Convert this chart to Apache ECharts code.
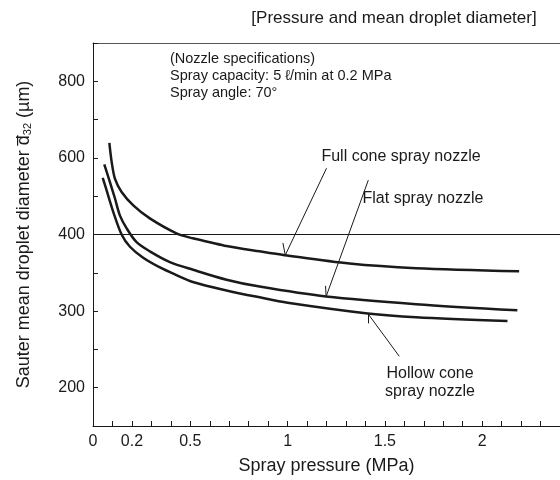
<!DOCTYPE html>
<html>
<head>
<meta charset="utf-8">
<script src="https://cdn.jsdelivr.net/npm/echarts@6/dist/echarts.min.js"></script>
<style>
  html, body { margin: 0; padding: 0; background: #fff; }
  #main { width: 560px; height: 480px; }
</style>
</head>
<body>
<div id="main"></div>
<script>
// y axis of the original is not linear: 200,300,400 then 600,800 at the same spacing
const yTickLabels = [200, 300, 400, 600, 800];

// pressure (MPa) / droplet diameter (µm)
const fullConeP = [0.084, 0.096, 0.113, 0.147, 0.207, 0.292, 0.429, 0.513, 0.600, 0.686, 0.856, 0.985, 1.318, 1.660, 2.190];
const fullConeD = [639, 589, 545, 511, 476, 442, 403, 395, 390, 385, 378, 373, 362, 356, 352];

const flatP = [0.058, 0.087, 0.113, 0.138, 0.173, 0.224, 0.292, 0.395, 0.514, 0.686, 0.856, 1.198, 1.660, 2.181];
const flatD = [583, 537, 494, 450, 416, 390, 378, 364, 354, 341, 332, 319, 309, 301];

const hollowP = [0.050, 0.070, 0.104, 0.147, 0.190, 0.256, 0.344, 0.429, 0.513, 0.686, 0.856, 1.0, 1.412, 1.660, 2.130];
const hollowD = [548, 515, 459, 400, 384, 370, 357, 347, 338, 327, 318, 311, 297, 292, 287];

const xLabelsShown = [0, 0.2, 0.5, 1, 1.5, 2];

// leader lines [pressure, µm] from label to curve
const leaders = [
  [[1.20, 573], [0.988, 373]],
  [[1.415, 542], [1.198, 319]],
  [[1.574, 241], [1.412, 297]]
];
// little barbs at the tips
const barbs = [
  [[0.976, 389], [0.988, 373]],
  [[1.195, 333], [1.198, 319]],
  [[1.412, 284], [1.412, 297]]
];

// µm -> position on the drawn axis
function toPos(v) {
  return v <= 400 ? (v - 200) / 100 : 2 + (v - 400) / 200;
}
function pairs(ps, ds) {
  return ps.map((p, i) => [p, toPos(ds[i])]);
}
function segs(list) {
  return list.map(s => [{ coord: [s[0][0], toPos(s[0][1])] }, { coord: [s[1][0], toPos(s[1][1])] }]);
}

const font = 'Arial, "Liberation Sans", sans-serif';
const ink = '#1a1a1a';

const chart = echarts.init(document.getElementById('main'));

const curve = (name, data) => ({
  name: name,
  type: 'line',
  data: data,
  smooth: 0.3,
  symbol: 'none',
  lineStyle: { color: ink, width: 2.5 },
  silent: true
});

chart.setOption({
  animation: false,
  grid: { left: 93, top: 43, right: 0, bottom: 52 },
  xAxis: [{
    type: 'value',
    min: 0, max: 2.4, interval: 0.1,
    name: 'Spray pressure (MPa)',
    nameLocation: 'middle',
    nameGap: 31,
    nameTextStyle: { fontFamily: font, fontSize: 18, color: ink },
    axisLine: { onZero: false, lineStyle: { color: ink, width: 1 } },
    axisTick: { inside: true, length: 5, lineStyle: { color: ink } },
    axisLabel: {
      fontFamily: font, fontSize: 16, color: ink, margin: 8,
      showMaxLabel: false,
      formatter: v => {
        const r = Math.round(v * 10) / 10;
        return xLabelsShown.indexOf(r) >= 0 ? String(r) : '';
      }
    },
    splitLine: { show: false }
  }, {
    type: 'value', position: 'top', min: 0, max: 2.4,
    axisLine: { show: true, onZero: false, lineStyle: { color: '#555', width: 1.2 } },
    axisTick: { show: false }, axisLabel: { show: false }, splitLine: { show: false }
  }],
  yAxis: {
    type: 'value',
    min: -0.5, max: 4.5, interval: 0.5,
    name: 'Sauter mean droplet diameter {d|d\u0305}{sub|32} (\u00b5m)',
    nameLocation: 'middle',
    nameGap: 60,
    nameTextStyle: {
      fontFamily: font, fontSize: 18, color: ink,
      rich: {
        d: { fontFamily: font, fontSize: 18, color: ink },
        sub: { fontFamily: font, fontSize: 11, color: ink, verticalAlign: 'bottom', padding: [7, 0, 0, 0] }
      }
    },
    axisLine: { show: true, onZero: false, lineStyle: { color: ink, width: 1 } },
    axisTick: { inside: true, length: 5, lineStyle: { color: ink } },
    axisLabel: {
      fontFamily: font, fontSize: 16, color: ink, margin: 8,
      formatter: v => (Number.isInteger(v) && yTickLabels[v] !== undefined) ? String(yTickLabels[v]) : ''
    },
    splitLine: { show: false }
  },
  series: [
    curve('Full cone spray nozzle', pairs(fullConeP, fullConeD)),
    curve('Flat spray nozzle', pairs(flatP, flatD)),
    curve('Hollow cone spray nozzle', pairs(hollowP, hollowD)),
    {
      type: 'line', data: [], silent: true,
      markLine: {
        silent: true, symbol: 'none', animation: false,
        label: { show: false },
        lineStyle: { color: ink, width: 1, type: 'solid' },
        data: [{ yAxis: toPos(400), lineStyle: { width: 1.2 } }].concat(segs(leaders), segs(barbs))
      }
    }
  ],
  graphic: [
    { type: 'text', x: 394, y: 10, style: { text: '[Pressure and mean droplet diameter]', font: '17px ' + font, fill: ink, align: 'center' } },
    { type: 'text', x: 170, y: 50, style: { text: '(Nozzle specifications)\nSpray capacity: 5 \u2113/min at 0.2 MPa\nSpray angle: 70\u00b0', font: '14.5px ' + font, fill: ink, lineHeight: 17 } },
    { type: 'text', x: 401, y: 149, style: { text: 'Full cone spray nozzle', font: '16px ' + font, fill: ink, align: 'center' } },
    { type: 'text', x: 423, y: 191, style: { text: 'Flat spray nozzle', font: '16px ' + font, fill: ink, align: 'center' } },
    { type: 'text', x: 430, y: 365, style: { text: 'Hollow cone\nspray nozzle', font: '16px ' + font, fill: ink, align: 'center', lineHeight: 18 } }
  ]
});
</script>
</body>
</html>
